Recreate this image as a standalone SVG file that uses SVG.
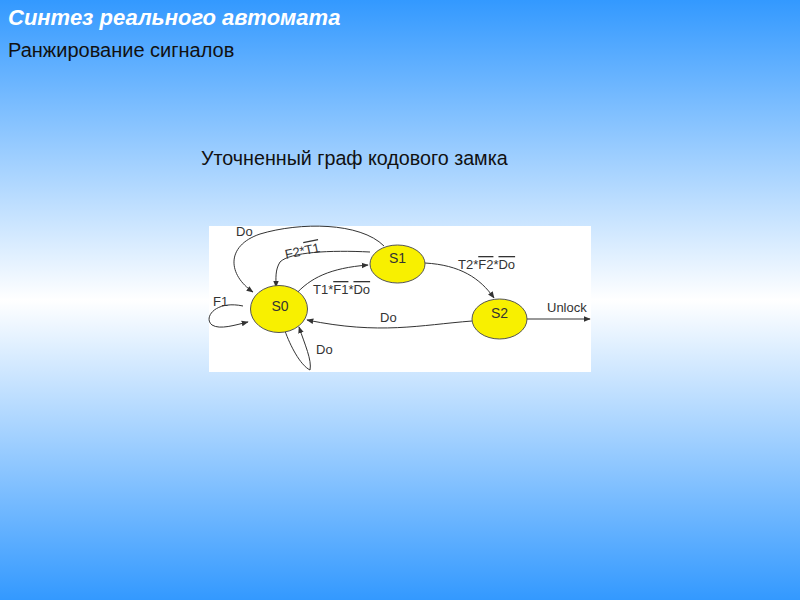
<svg xmlns="http://www.w3.org/2000/svg" width="800" height="600" viewBox="0 0 800 600">
<defs>
<linearGradient id="bg" x1="0" y1="0" x2="0" y2="1">
<stop offset="0" stop-color="#3399ff"/>
<stop offset="0.5" stop-color="#ffffff"/>
<stop offset="1" stop-color="#3399ff"/>
</linearGradient>
<marker id="arr" viewBox="0 0 10 10" refX="9" refY="5" markerWidth="7" markerHeight="7" markerUnits="userSpaceOnUse" orient="auto">
<path d="M0,1 L10,5 L0,9 Z" fill="#333"/>
</marker>
<style>
.node{fill:#f8f000;stroke:#555;stroke-width:1}
.nl{font-family:"Liberation Sans",Arial,sans-serif;font-size:14px;fill:#333;text-anchor:middle}
.lbl{font-family:"Liberation Sans",Arial,sans-serif;font-size:13px;fill:#333}
.ov{text-decoration:overline}
.edge{fill:none;stroke:#333;stroke-width:1;marker-end:url(#arr)}
</style>
</defs>
<rect width="800" height="600" fill="url(#bg)"/>
<text x="8" y="25" font-family="Liberation Sans,Arial,sans-serif" font-size="22" font-weight="bold" font-style="italic" fill="#ffffff">Синтез реального автомата</text>
<text x="8" y="57" font-family="Liberation Sans,Arial,sans-serif" font-size="20" fill="#111">Ранжирование сигналов</text>
<text x="201" y="165" font-family="Liberation Sans,Arial,sans-serif" font-size="19.7" fill="#111">Уточненный граф кодового замка</text>
<rect x="209" y="226" width="382" height="146" fill="#ffffff"/>
<g id="connectors">
<path class="edge" d="M384,246 C360,222 300,222 260,234 C225,246 228,275 253,292"/>
<path class="edge" d="M370,252 C330,250 290,252 280,262 C275,270 276,278 276,287"/>
<path class="edge" d="M295,295 C310,278 330,268 368,265"/>
<path class="edge" d="M425,263 C460,265 480,278 494,298"/>
<path class="edge" d="M472,321 C420,325 380,335 307,320"/>
<path class="edge" d="M527,319 L590,319"/>
<path class="edge" d="M243,306 C215,300 203,318 212,325 C220,330 235,325 248,322"/>
<path class="edge" d="M285,331 C290,345 300,365 310,370 C312,360 305,345 299,327"/>
<text class="lbl" x="236" y="236">Do</text>
<text class="lbl" transform="translate(286,259) rotate(-12)">F2*<tspan class="ov">T1</tspan></text>
<text class="lbl" x="313" y="294">T1*<tspan class="ov">F1</tspan>*<tspan class="ov">Do</tspan></text>
<text class="lbl" x="458" y="269">T2*<tspan class="ov">F2</tspan>*<tspan class="ov">Do</tspan></text>
<text class="lbl" x="380" y="322">Do</text>
<text class="lbl" x="547" y="312">Unlock</text>
<text class="lbl" x="213" y="306">F1</text>
<text class="lbl" x="316" y="354">Do</text>
</g>
<g id="S0"><ellipse class="node" cx="279" cy="309" rx="28.5" ry="23.5"/><text class="nl" x="280" y="311">S0</text></g>
<g id="S1"><ellipse class="node" cx="397.5" cy="264" rx="27.5" ry="19"/><text class="nl" x="397.5" y="263">S1</text></g>
<g id="S2"><ellipse class="node" cx="499.5" cy="319" rx="27.5" ry="20"/><text class="nl" x="499.5" y="318">S2</text></g>
</svg>
